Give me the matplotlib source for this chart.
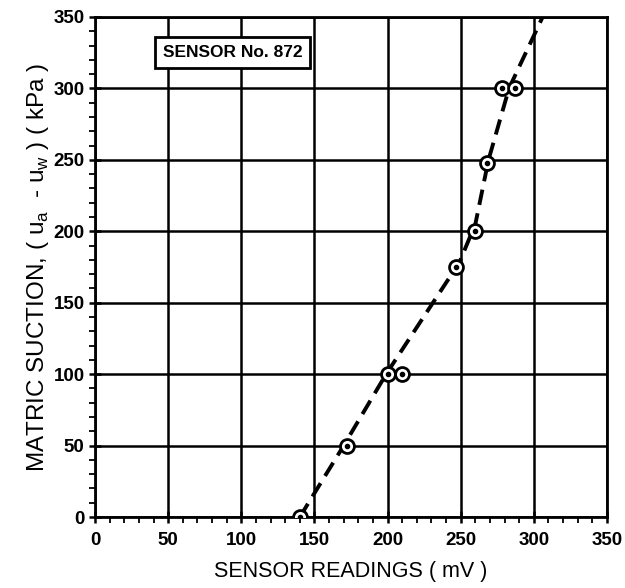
import matplotlib
matplotlib.use("Agg")
import matplotlib.pyplot as plt
from matplotlib.ticker import MultipleLocator

plt.rcParams['font.family'] = ['Liberation Sans', 'DejaVu Sans']
plt.rcParams['mathtext.fontset'] = 'custom'
plt.rcParams['mathtext.rm'] = 'Liberation Sans'

# measured data
readings_mv = [140, 172, 200, 210, 247, 260, 268, 278, 287]
suction_kpa = [0, 50, 100, 100, 175, 200, 248, 300, 300]

# fitted (dashed) calibration curve
fit_mv = [140, 170, 199, 231, 249, 260, 269, 283, 306]
fit_kpa = [0, 50, 100, 150, 178, 205, 250, 300, 350]

x_ticks = [0, 50, 100, 150, 200, 250, 300, 350]
y_ticks = [0, 50, 100, 150, 200, 250, 300, 350]

fig = plt.figure(figsize=(6.25, 5.88), dpi=100)
ax = fig.add_axes([0.152, 0.1207, 0.8192, 0.8504])

ax.set_xlim(0, 350)
ax.set_ylim(0, 350)
ax.set_xticks(x_ticks)
ax.set_yticks(y_ticks)
ax.xaxis.set_minor_locator(MultipleLocator(10))
ax.yaxis.set_minor_locator(MultipleLocator(10))
ax.grid(True, which='major', color='black', linewidth=1.8)
ax.set_axisbelow(True)
for s in ax.spines.values():
    s.set_linewidth(2)
ax.tick_params(which='major', direction='inout', length=9, width=1.8,
               labelsize=13.5, pad=3)
ax.tick_params(axis='x', which='major', pad=6)
ax.tick_params(which='minor', direction='out', length=4, width=1.3)
for lab in ax.get_xticklabels() + ax.get_yticklabels():
    lab.set_fontweight('bold')

ax.plot(fit_mv, fit_kpa, color='black', linewidth=2.8, linestyle=(0, (4, 2.2)),
        zorder=3)
ax.plot(readings_mv, suction_kpa, linestyle='none', marker='o', markersize=10,
        markerfacecolor='white', markeredgecolor='black', markeredgewidth=2,
        zorder=4)
ax.plot(readings_mv, suction_kpa, linestyle='none', marker='o', markersize=3,
        color='black', zorder=5)

ax.text(94, 325, 'SENSOR No. 872', fontsize=12.5, fontweight='bold',
        ha='center', va='center', zorder=6,
        bbox=dict(boxstyle='square,pad=0.45', facecolor='white',
                  edgecolor='black', linewidth=2))

ax.set_xlabel('SENSOR READINGS ( mV )', fontsize=15.5, labelpad=9)
ax.set_ylabel(r'MATRIC SUCTION, ( u$_\mathregular{a}$  - u$_\mathregular{w}$ ) ( kPa )',
              fontsize=17.5, labelpad=2)

fig.savefig('out.png', dpi=100)
